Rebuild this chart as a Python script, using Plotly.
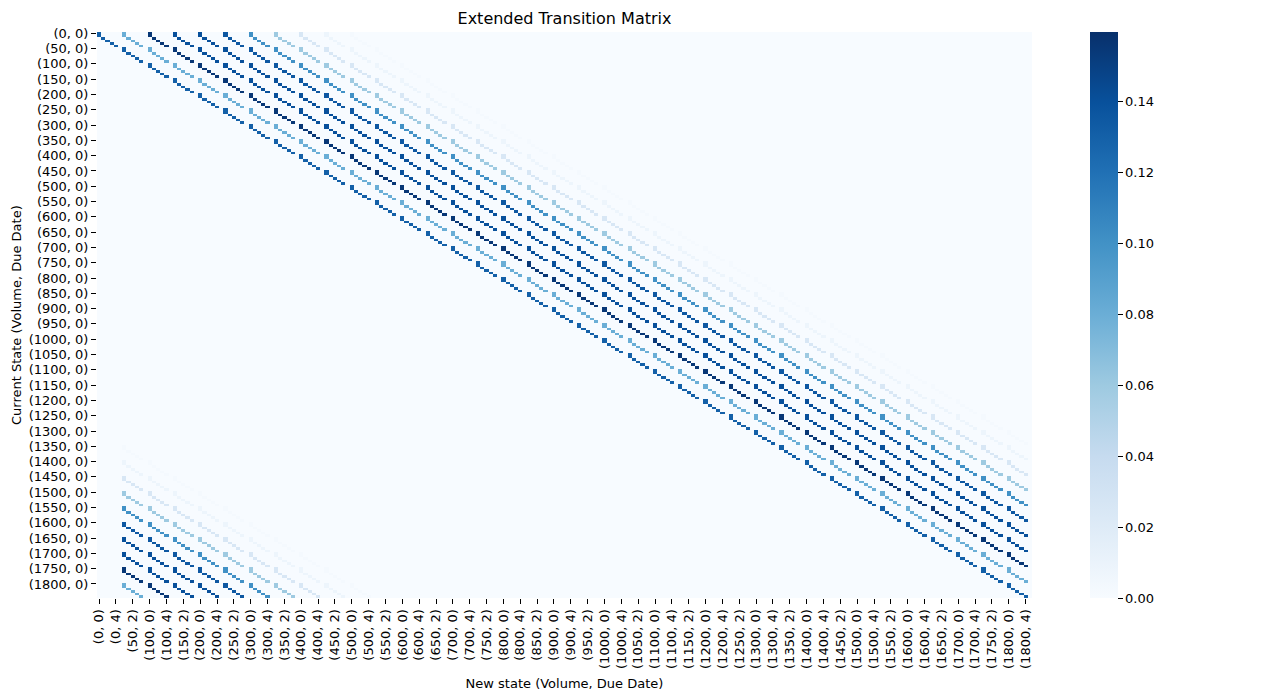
import numpy as np
import plotly.graph_objects as go

# states are (volume, due date)
VOLUMES = [0, 50, 100, 150, 200, 250, 300, 350, 400, 450, 500, 550, 600, 650,
           700, 750, 800, 850, 900, 950, 1000, 1050, 1100, 1150, 1200, 1250,
           1300, 1350, 1400, 1450, 1500, 1550, 1600, 1650, 1700, 1750, 1800]
DUE_DATES = [0, 1, 2, 3, 4, 5]

STEP_PROBS = [0.13, 0.08, 0.155, 0.14, 0.14, 0.135, 0.10, 0.06, 0.025, 0.008, 0.002]

BLUES = [[0.0, "#f7fbff"], [0.125, "#deebf7"], [0.25, "#c6dbef"], [0.375, "#9ecae1"],
         [0.5, "#6baed6"], [0.625, "#4292c6"], [0.75, "#2171b5"], [0.875, "#08519c"],
         [1.0, "#08306b"]]

states = [(v, d) for v in VOLUMES for d in DUE_DATES]
labels = ["(%d, %d)" % s for s in states]
nv, nd = len(VOLUMES), len(DUE_DATES)
n = len(states)

# build transition matrix: volume moves up k steps (wrapping past the top),
# due date counts down and stays at 0
mat = np.zeros((n, n))
for i in range(nv):
    for d in range(nd):
        for k, p in enumerate(STEP_PROBS):
            j = i + k
            if j >= nv:
                j = j - nv + 1
            nd_ = max(d - 1, 0)
            mat[i * nd + d, j * nd + nd_] = p

idx = list(range(n))
font = dict(family="DejaVu Sans", size=13, color="black")

# page body has an 8px margin, so the figure is a bit smaller than the window
W, H = 1272, 684
L, R, T, B = 89, 248, 24, 94

fig = go.Figure()
fig.add_trace(go.Heatmap(
    z=mat, x=idx, y=idx,
    colorscale=BLUES, zmin=0, zmax=0.1595,
    colorbar=dict(
        x=1.062, xanchor="left", xpad=0, y=0.5, yanchor="middle", ypad=0,
        len=1.0, lenmode="fraction",
        thickness=28, outlinewidth=0, tickvals=[0, 0.02, 0.04, 0.06, 0.08, 0.10, 0.12, 0.14],
        tickformat=".2f", ticks="outside", ticklen=5, tickcolor="black",
        tickfont=font,
    ),
    hovertemplate="%{y} -> %{x}: %{z}<extra></extra>",
))

xt = idx[::4]
yt = idx[::nd]
fig.update_layout(
    width=W, height=H,
    margin=dict(l=L, r=R, t=T, b=B),
    paper_bgcolor="white", plot_bgcolor="white",
    font=font,
    title=dict(text="Extended Transition Matrix", x=(L + W - R) / 2 / W, xanchor="center",
               y=1 - 10 / H, yanchor="middle", font=dict(family="DejaVu Sans", size=16, color="black")),
    xaxis=dict(range=[-0.5, n - 0.5], tickvals=xt, ticktext=[labels[t] for t in xt],
               tickangle=-90, ticks="outside", ticklen=5, tickcolor="black", showgrid=False,
               zeroline=False, showline=False, tickfont=font, automargin=False,
               title=dict(text="New state (Volume, Due Date)", font=font, standoff=10)),
    yaxis=dict(range=[n - 0.5, -0.5], tickvals=yt, ticktext=[labels[t] for t in yt],
               ticks="outside", ticklen=5, tickcolor="black", showgrid=False,
               zeroline=False, showline=False, tickfont=font, automargin=False),
)

# y axis title placed by hand, further left than plotly puts it
fig.add_annotation(text="Current State (Volume, Due Date)", textangle=-90,
                   xref="paper", yref="paper", x=(8 - L) / (W - L - R), y=0.5,
                   xanchor="center", yanchor="middle", showarrow=False, font=font)

fig.write_html("out.html")
